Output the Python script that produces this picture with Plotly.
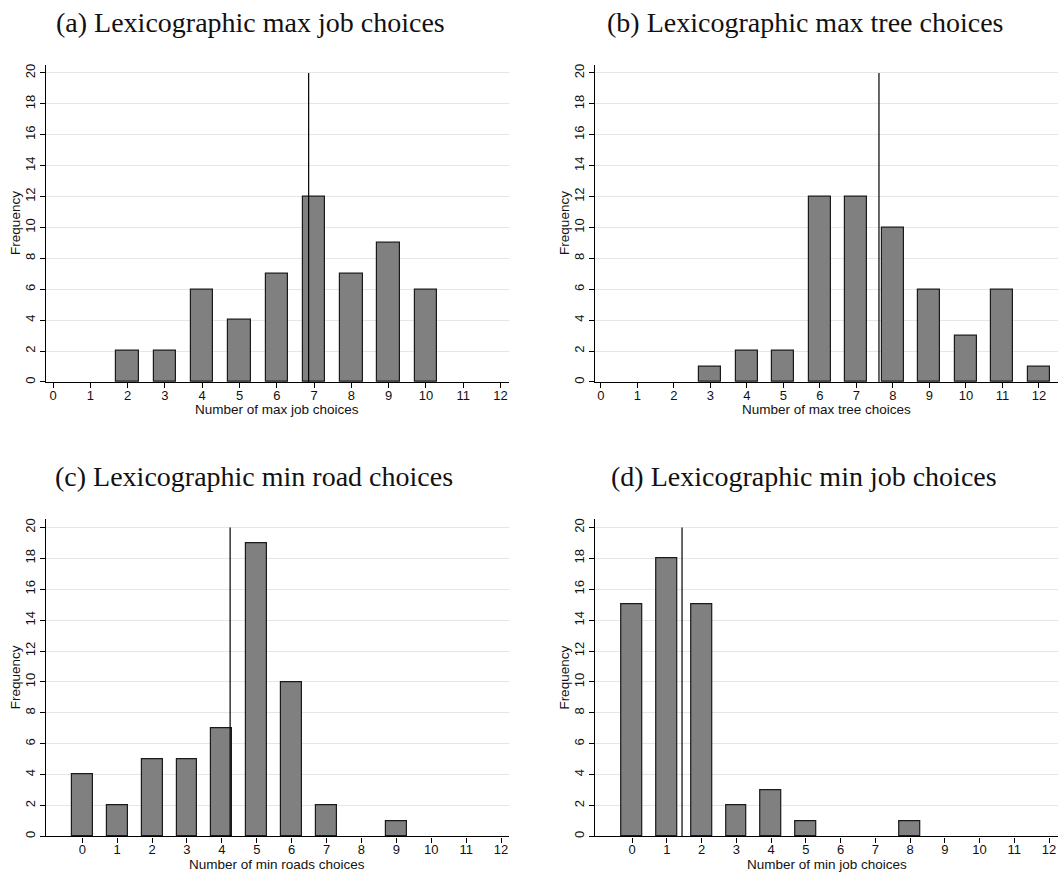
import plotly.graph_objects as go

W, H = 1060, 874

bins = list(range(0, 13))

# Frequencies per number of choices (0..12)
max_job_counts = [0, 0, 2, 2, 6, 4, 7, 12, 7, 9, 6, 0, 0]
max_tree_counts = [0, 0, 0, 1, 2, 2, 12, 12, 10, 6, 3, 6, 1]
min_road_counts = [4, 2, 5, 5, 7, 19, 10, 2, 0, 1, 0, 0, 0]
min_job_counts = [15, 18, 15, 2, 3, 1, 0, 0, 1, 0, 0, 0, 0]

panel_titles = [
    "(a) Lexicographic max job choices",
    "(b) Lexicographic max tree choices",
    "(c) Lexicographic min road choices",
    "(d) Lexicographic min job choices",
]
x_titles = [
    "Number of max job choices",
    "Number of max tree choices",
    "Number of min roads choices",
    "Number of min job choices",
]
y_title = "Frequency"
y_ticks = list(range(0, 21, 2))
x_ticks = list(range(0, 13))

series = [max_job_counts, max_tree_counts, min_road_counts, min_job_counts]

# layout in window pixels: (x_left, x_right), (y_top, y_bottom), axis x range
panels = [
    dict(px=(46, 508.7), py=(64, 382.3), xr=(-0.19, 12.22)),
    dict(px=(595, 1058.3), py=(64, 382.3), xr=(-0.16, 12.53)),
    dict(px=(46, 508.7), py=(520, 838.3), xr=(-1.04, 12.22)),
    dict(px=(595.3, 1057.7), py=(520, 838.3), xr=(-1.06, 12.25)),
]
title_pos = [(250, 22), (805, 22), (254, 477), (804, 477)]


def fx(p):
    return p / W


def fy(p):
    return 1 - p / H


fig = go.Figure()
SANS = "Liberation Sans, Arial, sans-serif"
SERIF = "Liberation Serif, Times New Roman, serif"

annotations = []
for i, (counts, pn) in enumerate(zip(series, panels)):
    k = "" if i == 0 else str(i + 1)
    xs = [b for b, c in zip(bins, counts) if c > 0]
    ys = [c for c in counts if c > 0]
    fig.add_trace(go.Bar(
        x=xs, y=ys, width=0.6,
        marker=dict(color="#808080", line=dict(color="#1a1a1a", width=1.2)),
        xaxis="x" + k, yaxis="y" + k, showlegend=False,
    ))
    total = sum(counts)
    mean = sum(b * c for b, c in zip(bins, counts)) / total
    fig.add_trace(go.Scatter(
        x=[mean, mean], y=[0, 20], mode="lines",
        line=dict(color="black", width=1.2),
        xaxis="x" + k, yaxis="y" + k, showlegend=False, hoverinfo="skip",
    ))
    fig.update_layout(**{
        "xaxis" + k: dict(
            domain=[fx(pn["px"][0]), fx(pn["px"][1])],
            range=list(pn["xr"]), anchor="y" + k,
            tickvals=x_ticks, ticktext=[str(t) for t in x_ticks],
            showline=True, linecolor="black", linewidth=1.3,
            ticks="outside", ticklen=5, tickwidth=1, tickcolor="black",
            ticklabelstandoff=-4, ticklabeloverflow="allow",
            showgrid=False, zeroline=False,
            tickfont=dict(family=SANS, size=13, color="#111"),
        ),
        "yaxis" + k: dict(
            domain=[fy(pn["py"][1]), fy(pn["py"][0])],
            range=[0, 20.53], anchor="x" + k,
            tickvals=y_ticks, ticktext=[str(t) for t in y_ticks],
            tickangle=-90,
            showline=True, linecolor="black", linewidth=1.3,
            ticks="outside", ticklen=5, tickwidth=1, tickcolor="black",
            showgrid=True, gridcolor="#e6e6e6", gridwidth=1, zeroline=False,
            tickfont=dict(family=SANS, size=13, color="#111"),
        ),
    })
    tx, ty = title_pos[i]
    annotations.append(dict(
        text=panel_titles[i], x=fx(tx), y=fy(ty), xref="paper", yref="paper",
        xanchor="center", yanchor="middle", showarrow=False,
        font=dict(family=SERIF, size=28, color="#111"),
    ))
    xc = (pn["px"][0] + pn["px"][1]) / 2
    annotations.append(dict(
        text=x_titles[i], x=fx(xc), y=fy(pn["py"][1] + 28), xref="paper", yref="paper",
        xanchor="center", yanchor="middle", showarrow=False,
        font=dict(family=SANS, size=13.5, color="#111"),
    ))
    yc = (pn["py"][0] + pn["py"][1]) / 2
    annotations.append(dict(
        text=y_title, x=fx(pn["px"][0] - 30.5), y=fy(yc), xref="paper", yref="paper",
        xanchor="center", yanchor="middle", showarrow=False, textangle=-90,
        font=dict(family=SANS, size=13.5, color="#111"),
    ))

fig.update_layout(
    width=W, height=H,
    margin=dict(l=0, r=0, t=0, b=0),
    paper_bgcolor="white", plot_bgcolor="white",
    annotations=annotations,
    bargap=0,
)

fig.write_html(
    "out.html",
    config={"displayModeBar": False},
    post_script="document.body.style.margin='0px';document.body.style.overflow='hidden';",
)
